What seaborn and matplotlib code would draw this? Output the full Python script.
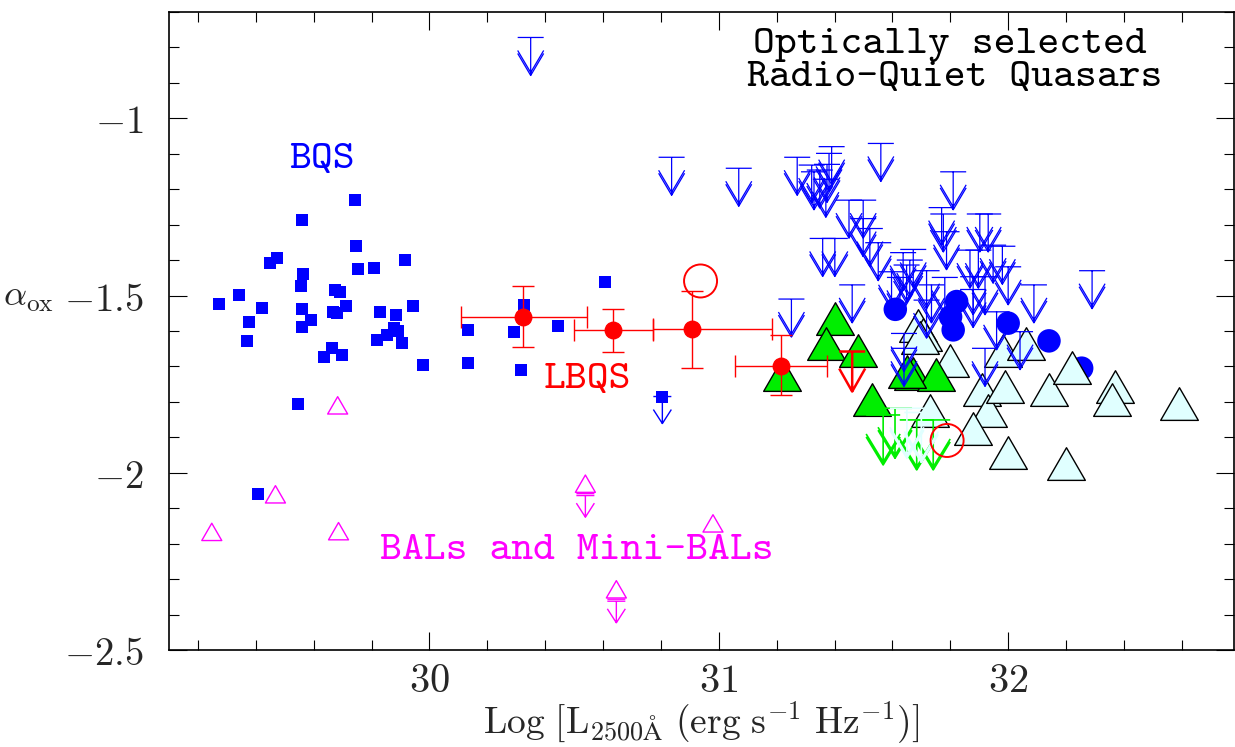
import numpy as np
import pandas as pd
import matplotlib
matplotlib.use("Agg")
import matplotlib.pyplot as plt
import seaborn as sns
from matplotlib.path import Path
from matplotlib.markers import MarkerStyle
from matplotlib.ticker import MultipleLocator

# ---------------- data ----------------
bqs_x = [29.743, 29.561, 29.747, 29.473, 29.448, 29.914, 29.752, 29.808, 29.563, 29.555,
         29.342, 29.273, 29.673, 29.690, 29.420, 29.560, 29.666, 29.681, 29.712, 29.590,
         29.375, 29.559, 29.830, 29.885, 29.944, 29.371, 29.818, 29.853, 29.878, 29.893,
         29.905, 29.663, 29.635, 29.697, 29.978, 30.132, 30.132, 29.545, 29.407, 30.607,
         30.328, 30.292, 30.446, 30.318]
bqs_y = [-1.231, -1.287, -1.360, -1.394, -1.409, -1.401, -1.426, -1.421, -1.439, -1.473,
         -1.499, -1.523, -1.485, -1.489, -1.534, -1.537, -1.546, -1.550, -1.529, -1.568,
         -1.575, -1.590, -1.546, -1.554, -1.529, -1.628, -1.625, -1.612, -1.592, -1.600,
         -1.635, -1.647, -1.674, -1.668, -1.696, -1.597, -1.691, -1.806, -2.059, -1.463,
         -1.527, -1.602, -1.587, -1.709]
bqs_ul_x = [30.805]
bqs_ul_y = [-1.785]

blue_ul_x = [30.350, 30.837, 31.069, 31.271, 31.560, 31.810, 31.251,
             31.390, 31.381, 31.321, 31.374, 31.329, 31.370, 31.349,
             31.450, 31.499, 31.499, 31.522, 31.551, 31.359, 31.401, 31.461,
             31.770, 31.776, 31.787, 31.902, 31.931,
             31.637, 31.672, 31.660, 31.649, 31.626, 31.718, 31.735, 31.781,
             31.868, 31.897, 31.879, 31.920, 31.879, 31.948,
             31.980, 32.000, 32.089, 32.290, 31.960,
             31.920, 32.041, 31.640, 31.640, 31.718, 31.597]
blue_ul_y = [-0.772, -1.110, -1.141, -1.110, -1.071, -1.151, -1.510,
             -1.080, -1.099, -1.132, -1.130, -1.151, -1.172, -1.146,
             -1.231, -1.231, -1.283, -1.311, -1.351, -1.339, -1.339, -1.470,
             -1.252, -1.270, -1.320, -1.270, -1.270,
             -1.379, -1.370, -1.400, -1.414, -1.449, -1.430, -1.470, -1.449,
             -1.372, -1.372, -1.447, -1.447, -1.483, -1.358,
             -1.361, -1.419, -1.470, -1.430, -1.546,
             -1.649, -1.602, -1.607, -1.649, -1.513, -1.433]

blue_circ_x = [31.610, 31.822, 31.801, 31.810, 32.000, 32.141, 32.254]
blue_circ_y = [-1.539, -1.517, -1.560, -1.597, -1.578, -1.628, -1.705]

green_tri_x = [31.401, 31.370, 31.480, 31.220, 31.530, 31.672, 31.750, 31.649]
green_tri_y = [-1.581, -1.652, -1.672, -1.739, -1.809, -1.736, -1.739, -1.729]

cyan_tri_x = [31.689, 31.707, 31.697, 31.799, 31.730, 31.908, 31.931, 31.879, 31.989,
              31.983, 32.060, 32.141, 32.222, 32.369, 32.360, 32.590, 31.999, 32.200]
cyan_tri_y = [-1.600, -1.625, -1.635, -1.700, -1.839, -1.780, -1.839, -1.890, -1.771,
              -1.670, -1.652, -1.780, -1.719, -1.771, -1.809, -1.819, -1.959, -1.990]

green_ul_x = [31.568, 31.609, 31.684, 31.741]
green_ul_y = [-1.837, -1.818, -1.851, -1.851]
cyan_ul_x = [31.650, 31.700]
cyan_ul_y = [-1.818, -1.830]

lbqs_x = [30.325, 30.635, 30.909, 31.214]
lbqs_y = [-1.560, -1.598, -1.595, -1.698]
lbqs_xlo = [30.108, 30.498, 30.774, 31.057]
lbqs_xhi = [30.546, 30.774, 31.184, 31.374]
lbqs_ytop = [-1.473, -1.537, -1.486, -1.612]
lbqs_ybot = [-1.645, -1.659, -1.704, -1.782]

red_open_x = [30.937, 31.789]
red_open_y = [-1.459, -1.909]
red_ul_x = [31.461]
red_ul_y = [-1.658]

bal_x = [29.683, 29.468, 29.248, 29.686, 30.980]
bal_y = [-1.818, -2.069, -2.175, -2.173, -2.151]
bal_ul_x = [30.539, 30.646]
bal_ul_y = [-2.039, -2.337]

x_ticks = [30, 31, 32]
x_ticklabels = ["$30$", "$31$", "$32$"]
y_ticks = [-2.5, -2, -1.5, -1]
y_ticklabels = ["$-2.5$", "$-2$", "$-1.5$", "$-1$"]

# ---------------- style ----------------
sns.set_style("ticks")
plt.rcParams["mathtext.fontset"] = "cm"
plt.rcParams["font.family"] = ["DejaVu Sans"]

DPI = 100
PT = 72.0 / DPI
fig = plt.figure(figsize=(12.35, 7.47), dpi=DPI)
ax = fig.add_axes([0.1368, 0.1299, 0.8623, 0.8541])


def seg_marker(segments, closed=False):
    verts, codes = [], []
    for seg in segments:
        for i, p in enumerate(seg):
            verts.append(p)
            codes.append(Path.MOVETO if i == 0 else Path.LINETO)
        if closed:
            verts.append(seg[0])
            codes.append(Path.CLOSEPOLY)
    verts = np.array(verts, float)
    m = np.abs(verts).max()
    path = Path(verts, codes)
    ms = MarkerStyle(path) if closed else MarkerStyle(path, fillstyle="none")
    return ms, (2 * m * PT) ** 2


def arrow_marker(half, length, vh, top=0.0):
    segs = [[(-half, top), (half, top)], [(0, top), (0, -length)],
            [(-half, -length + vh), (0, -length), (half, -length + vh)],
            [(-half, -length + vh + 3), (0, -length + 3), (half, -length + vh + 3)]]
    return seg_marker(segs)


def tri_marker(w):
    h = w * np.sqrt(3) / 2
    return seg_marker([[(0, 2 * h / 3), (-w / 2, -h / 3), (w / 2, -h / 3)]], closed=True)


def draw(xs, ys, marker, s, z, **kw):
    df = pd.DataFrame({"x": xs, "y": ys})
    sns.scatterplot(data=df, x="x", y="y", marker=marker, s=s, ax=ax,
                    legend=False, zorder=z, **kw)


blue_arrow, s_blue_arrow = arrow_marker(13, 38, 22)
green_arrow, s_green_arrow = arrow_marker(17, 50, 28)
red_arrow, s_red_arrow = seg_marker([[(-13, 0), (13, 0)], [(0, 0), (0, -40)],
                                     [(-13, -17), (0, -40), (13, -17)]])
small_arrow, s_small_arrow = seg_marker([[(-9, 0), (9, 0)], [(0, 0), (0, -27)],
                                         [(-9, -13), (0, -27), (9, -13)]])
bal_arrow, s_bal_arrow = seg_marker([[(-9, -7), (9, -7)], [(-9, -9), (9, -9)],
                                     [(0, -9), (0, -30.6)],
                                     [(-9, -16.6), (0, -30.6), (9, -16.6)]])
big_tri, s_big_tri = tri_marker(37.7)
bal_tri_filled, s_bal_tri = tri_marker(20)
bal_tri = MarkerStyle(bal_tri_filled.get_path(), fillstyle="none")
open_circ = MarkerStyle("o", fillstyle="none")

# ---------------- marks ----------------
draw(bqs_x, bqs_y, "s", (12 * PT) ** 2, 3, color="#0000ff", edgecolor="none", linewidth=0)
draw(bqs_ul_x, bqs_ul_y, "s", (12 * PT) ** 2, 3, color="#0000ff", edgecolor="none", linewidth=0)
draw(bqs_ul_x, bqs_ul_y, small_arrow, s_small_arrow, 3, color="#0000ff", linewidth=1.0)

draw(blue_circ_x, blue_circ_y, "o", (23.5 * PT) ** 2, 3, color="#0000ff",
     edgecolor="none", linewidth=0)
draw(cyan_tri_x, cyan_tri_y, big_tri, s_big_tri, 4, color="#e0ffff",
     edgecolor="black", linewidth=1.0)
draw(green_tri_x, green_tri_y, big_tri, s_big_tri, 4, color="#00ee00",
     edgecolor="black", linewidth=1.0)

draw(blue_ul_x, blue_ul_y, blue_arrow, s_blue_arrow, 5, color="#0000ff", linewidth=0.9)
draw(green_ul_x, green_ul_y, green_arrow, s_green_arrow, 5, color="#00ee00", linewidth=1.2)
draw(cyan_ul_x, cyan_ul_y, green_arrow, s_green_arrow, 5, color="#e0ffff", linewidth=1.2)

lx = np.array(lbqs_x)
ly = np.array(lbqs_y)
ax.errorbar(lx, ly,
            xerr=[lx - np.array(lbqs_xlo), np.array(lbqs_xhi) - lx],
            yerr=[ly - np.array(lbqs_ybot), np.array(lbqs_ytop) - ly],
            fmt="o", color="#ff0000", ms=16.5 * PT, capsize=11 * PT,
            elinewidth=1.0, capthick=1.0, zorder=6)
draw(red_open_x, red_open_y, open_circ, (33 * PT) ** 2, 6, color="#ff0000", linewidth=1.4)
draw(red_ul_x, red_ul_y, red_arrow, s_red_arrow, 6, color="#ff0000", linewidth=1.8)

draw(bal_x, bal_y, bal_tri, s_bal_tri, 6, color="#ff00ff", linewidth=1.0)
draw(bal_ul_x, bal_ul_y, bal_tri, s_bal_tri, 6, color="#ff00ff", linewidth=1.0)
draw(bal_ul_x, bal_ul_y, bal_arrow, s_bal_arrow, 6, color="#ff00ff", linewidth=1.0)

# ---------------- texts ----------------
tfont = dict(family="cmtt10", fontsize=30, ha="center", va="center")
ax.text(29.627, -1.118, "BQS", color="#0000ff", **tfont)
ax.text(30.547, -1.738, "LBQS", color="#ff0000", **tfont)
ax.text(30.509, -2.220, "BALs and Mini-BALs", color="#ff00ff", **tfont)
ax.text(31.799, -0.793, "Optically selected", color="black", **tfont)
ax.text(31.816, -0.887, "Radio-Quiet Quasars", color="black", **tfont)

# ---------------- axes ----------------
ax.set_xlim(29.1, 32.78)
ax.set_ylim(-2.5, -0.7)
ax.set_xticks(x_ticks)
ax.set_xticklabels(x_ticklabels)
ax.set_yticks(y_ticks)
ax.set_yticklabels(y_ticklabels)
ax.xaxis.set_minor_locator(MultipleLocator(0.2))
ax.yaxis.set_minor_locator(MultipleLocator(0.1))
ax.tick_params(which="both", direction="in", top=True, right=True, color="black",
               width=0.8)
ax.tick_params(which="major", length=13)
ax.tick_params(which="minor", length=7)
ax.tick_params(axis="x", which="major", labelsize=29, pad=8)
ax.tick_params(axis="y", which="major", labelsize=28, pad=18)
for sp in ax.spines.values():
    sp.set_linewidth(1.2)
    sp.set_color("black")

ax.set_xlabel(r"$\mathrm{Log}\ [\mathrm{L}_{2500\mathrm{\AA}}\ (\mathrm{erg\ s^{-1}\ Hz^{-1}})]$",
              fontsize=27)
ax.xaxis.set_label_coords(0.5, -0.077)
ax.set_ylabel(r"$\alpha_{\rm ox}$", fontsize=26, rotation=0, ha="center", va="center")
ax.yaxis.set_label_coords(-0.132, 0.553)

fig.savefig("out.png", dpi=DPI)
